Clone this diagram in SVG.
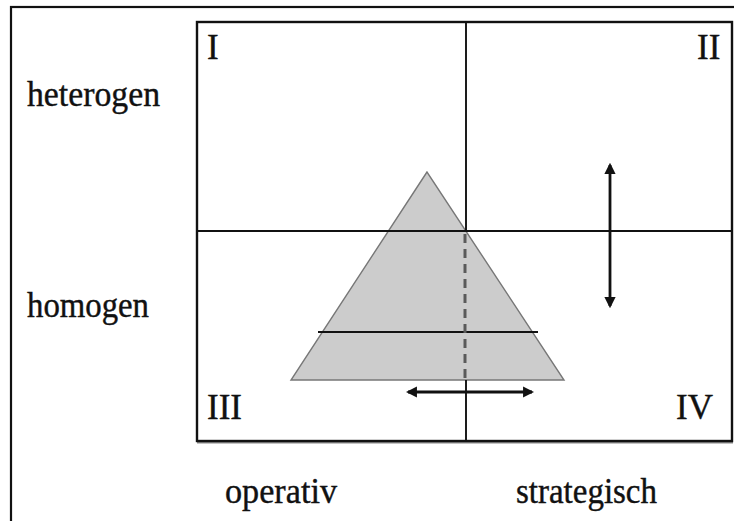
<svg xmlns="http://www.w3.org/2000/svg" width="734" height="521" viewBox="0 0 734 521">
<style>
text{font-family:"Liberation Serif","Times New Roman",serif;fill:#111;font-size:35px;stroke:#111;stroke-width:0.4}
.ln{stroke:#111;stroke-width:1.9;fill:none}
.arr{stroke:#111;stroke-width:2.8;fill:none}
</style>
<defs>
<marker id="ah" viewBox="0 0 10 10" refX="8" refY="5" markerWidth="4" markerHeight="4" orient="auto-start-reverse" markerUnits="strokeWidth">
<path d="M0,0 L10,5 L0,10 z" fill="#111"/>
</marker>
</defs>
<rect width="734" height="521" fill="#fff"/>
<g id="frame">
<rect x="11" y="7" width="800" height="600" fill="none" stroke="#111" stroke-width="2.2"/>
</g>
<g id="matrix">
<line x1="197" y1="442.5" x2="733" y2="442.5" stroke="#888" stroke-width="2"/>
<rect x="197" y="22" width="535" height="419" fill="none" stroke="#111" stroke-width="2.4"/>
</g>
<g id="pyramid">
<polygon points="427,172 291,380 564,380" fill="#cccccc" stroke="#777" stroke-width="1.4"/>
</g>
<g id="connectors">
<line class="ln" x1="466" y1="22" x2="466" y2="231"/>
<line class="ln" x1="466" y1="380" x2="466" y2="441"/>
<line class="ln" x1="197" y1="231" x2="732" y2="231"/>
<line class="ln" x1="318" y1="332" x2="538" y2="332"/>
<line x1="465" y1="234" x2="465" y2="380" stroke="#5a5a5a" stroke-width="3" stroke-dasharray="9 6"/>
<line class="arr" x1="610" y1="165" x2="610" y2="306" marker-start="url(#ah)" marker-end="url(#ah)"/>
<line class="arr" x1="408" y1="392" x2="532" y2="392" marker-start="url(#ah)" marker-end="url(#ah)"/>
</g>
<g id="labels">
<text x="207" y="59">I</text>
<text x="697" y="59">II</text>
<text x="207" y="419">III</text>
<text x="676" y="419">IV</text>
<text x="27" y="106" textLength="133" lengthAdjust="spacingAndGlyphs">heterogen</text>
<text x="27" y="317" textLength="122" lengthAdjust="spacingAndGlyphs">homogen</text>
<text x="225" y="503" textLength="112" lengthAdjust="spacingAndGlyphs">operativ</text>
<text x="516" y="503" textLength="141" lengthAdjust="spacingAndGlyphs">strategisch</text>
</g>
</svg>
